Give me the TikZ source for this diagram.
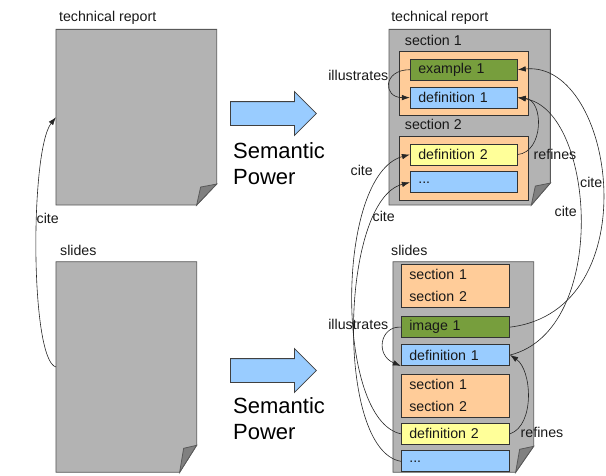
\documentclass[tikz,border=0pt]{standalone}
\usepackage{fontspec}
\setmainfont{Liberation Sans}
\usepackage{xcolor}
\usepackage{tikz}
\usetikzlibrary{arrows.meta, shapes.arrows, positioning, calc}

\definecolor{pagegray}{RGB}{179,179,179}
\definecolor{foldgray}{RGB}{128,128,128}
\definecolor{secorange}{RGB}{255,204,153}
\definecolor{exgreen}{RGB}{119,158,61}
\definecolor{defblue}{RGB}{153,204,255}
\definecolor{defyellow}{RGB}{255,255,153}

% page outline with a folded corner, drawn round a placeholder node
% #1 node, #2 fold width, #3 fold height
\newcommand{\dogear}[3]{%
  \filldraw[pageedge, fill=pagegray] (#1.north west) -- (#1.north east)
    -- ($(#1.south east)+(0,-#3)$) -- ($(#1.south east)+(-#2,0)$)
    -- (#1.south west) -- cycle;
  \filldraw[pageedge, fill=foldgray] ($(#1.south east)+(0,-#3)$)
    -- ($(#1.south east)+(-#2+4,-#3+3)$) -- ($(#1.south east)+(-#2,0)$) -- cycle;
}

\begin{document}
\begin{tikzpicture}[
    x=1pt, y=-1pt,
    >={Latex[length=8pt,width=5.5pt]},
    every node/.style={font=\fontsize{14.2}{17}\selectfont, text=black!90},
    docpage/.style={inner sep=0pt, outer sep=0pt},
    pageedge/.style={draw=black!65, line width=0.8pt},
    secbox/.style={draw=black!80, line width=0.9pt, fill=secorange, inner sep=0pt},
    itembox/.style={draw=black!80, line width=0.9pt, minimum height=21pt,
        inner xsep=8pt, inner ysep=0pt, align=left, text width=#1},
    twolines/.style={inner xsep=8pt, align=left, text width=92.4pt,
        font=\fontsize{14.2}{22}\selectfont},
    powerarrow/.style={single arrow, draw=black!75, line width=0.8pt, fill=defblue,
        minimum height=86pt, minimum width=43pt, single arrow head extend=10pt,
        inner sep=11.5pt},
    powertext/.style={anchor=north west, inner sep=0pt, align=left,
        font=\fontsize{22}{26}\selectfont, text=black},
    rel/.style={->, draw=black!85, line width=0.6pt},
    relname/.style={inner sep=0pt}
]
    \useasboundingbox (0,0) rectangle (606,475);

    % Pages
    \node[docpage, minimum width=160.7pt, minimum height=175.7pt] (ltech) at (136.3,117.2) {};
    \dogear{ltech}{20}{21}
    \node[docpage, minimum width=140.7pt, minimum height=210.6pt] (lslides) at (126.3,367) {};
    \dogear{lslides}{17}{27}
    \node[docpage, minimum width=161.3pt, minimum height=175.7pt] (rtech) at (469.7,117.2) {};
    \dogear{rtech}{19}{22}
    \node[docpage, minimum width=140.7pt, minimum height=210.6pt] (rslides) at (463.3,367) {};
    \dogear{rslides}{18}{26}

    \node[anchor=base west, inner sep=0pt] (ltechname) at ($(ltech.north west)+(3,-7.6)$) {technical report};
    \node[anchor=base west, inner sep=0pt] (lslidesname) at ($(lslides.north west)+(4,-6)$) {slides};
    \node[anchor=base west, inner sep=0pt] (rtechname) at ($(rtech.north west)+(2,-7.6)$) {technical report};
    \node[anchor=base west, inner sep=0pt] (rslidesname) at ($(rslides.north west)+(-2,-6)$) {slides};

    % Semantic Power arrows
    \node[powerarrow, anchor=tail] (powerA) at (230,113.5) {};
    \node[powerarrow, anchor=tail] (powerB) at (230,370.5) {};
    \node[powertext] (powerAtext) at (233,142) {Semantic\\Power};
    \node[powertext] (powerBtext) at (233,397) {Semantic\\Power};

    % Report sections
    \node[anchor=base west, inner sep=0pt] (tsecAname) at (404.7,45) {section 1};
    \node[secbox, minimum width=128.6pt, minimum height=64pt] (tsecA) at (464,83) {};
    \node[anchor=base west, inner sep=0pt] (tsecBname) at (404.7,129.3) {section 2};
    \node[secbox, minimum width=128.6pt, minimum height=64pt] (tsecB) at (464,168) {};

    \node[itembox=91pt, fill=exgreen] (texA) at (463.8,69.7) {example 1};
    \node[itembox=91pt, fill=defblue, below=6pt of texA] (tdefA) {definition 1};
    \node[itembox=91pt, fill=defyellow] (tdefB) at (463.8,154.5) {definition 2};
    \node[itembox=91pt, fill=defblue, below=6pt of tdefB] (tdots) {...};

    % Slide items
    \node[secbox, twolines, minimum width=108.4pt, minimum height=43pt] (bsecA) at (455.5,285.8) {section 1\\section 2};
    \node[itembox=92.4pt, fill=exgreen, below=8.4pt of bsecA] (bimg) {image 1};
    \node[itembox=92.4pt, fill=defblue, below=6pt of bimg] (bdefA) {definition 1};
    \node[secbox, twolines, minimum width=108.4pt, minimum height=43pt, below=7.7pt of bdefA] (bsecB) {section 1\\section 2};
    \node[itembox=92.4pt, fill=defyellow, below=5.3pt of bsecB] (bdefB) {definition 2};
    \node[itembox=92.4pt, fill=defblue, below=5.6pt of bdefB] (bdots) {...};

    % Relations
    \draw[rel] (lslides.west) .. controls (30,360) and (30,150) .. (ltech.west);
    \draw[rel] (texA.west) to[out=180, in=180, looseness=2.5] (tdefA.west);
    \draw[rel] (tdefB.east) .. controls (544,152) and (544,100) .. (tdefA.east);
    \draw[rel] (bimg.east) .. controls (650,310) and (615,60) .. (texA.east);
    \draw[rel] (bdefA.east) .. controls (610,330) and (595,110) .. (tdefA.east);
    \draw[rel] (bdefB.west) .. controls (335,420) and (335,175) .. (tdefB.west);
    \draw[rel] (bdots.west) .. controls (335,450) and (340,200) .. (tdots.west);
    \draw[rel] (bimg.west) .. controls (380,326) and (375,355) .. (bdefA.south west);
    \draw[rel] (bdefB.east) .. controls (535,425) and (532,370) .. (bdefA.east);

    \node[relname, anchor=west] (citeL) at (36.5,218) {cite};
    \node[relname, anchor=east] (illusA) at (388.5,75) {illustrates};
    \node[relname, anchor=west] (refinesA) at (533.5,154) {refines};
    \node[relname, anchor=west] (citeB) at (350.5,170.5) {cite};
    \node[relname, anchor=west] (citeC) at (372.5,216.5) {cite};
    \node[relname, anchor=west] (citeD) at (580,182.5) {cite};
    \node[relname, anchor=west] (citeE) at (554.5,211.5) {cite};
    \node[relname, anchor=east] (illusB) at (388.5,324) {illustrates};
    \node[relname, anchor=west] (refinesB) at (520.5,432) {refines};
\end{tikzpicture}
\end{document}
